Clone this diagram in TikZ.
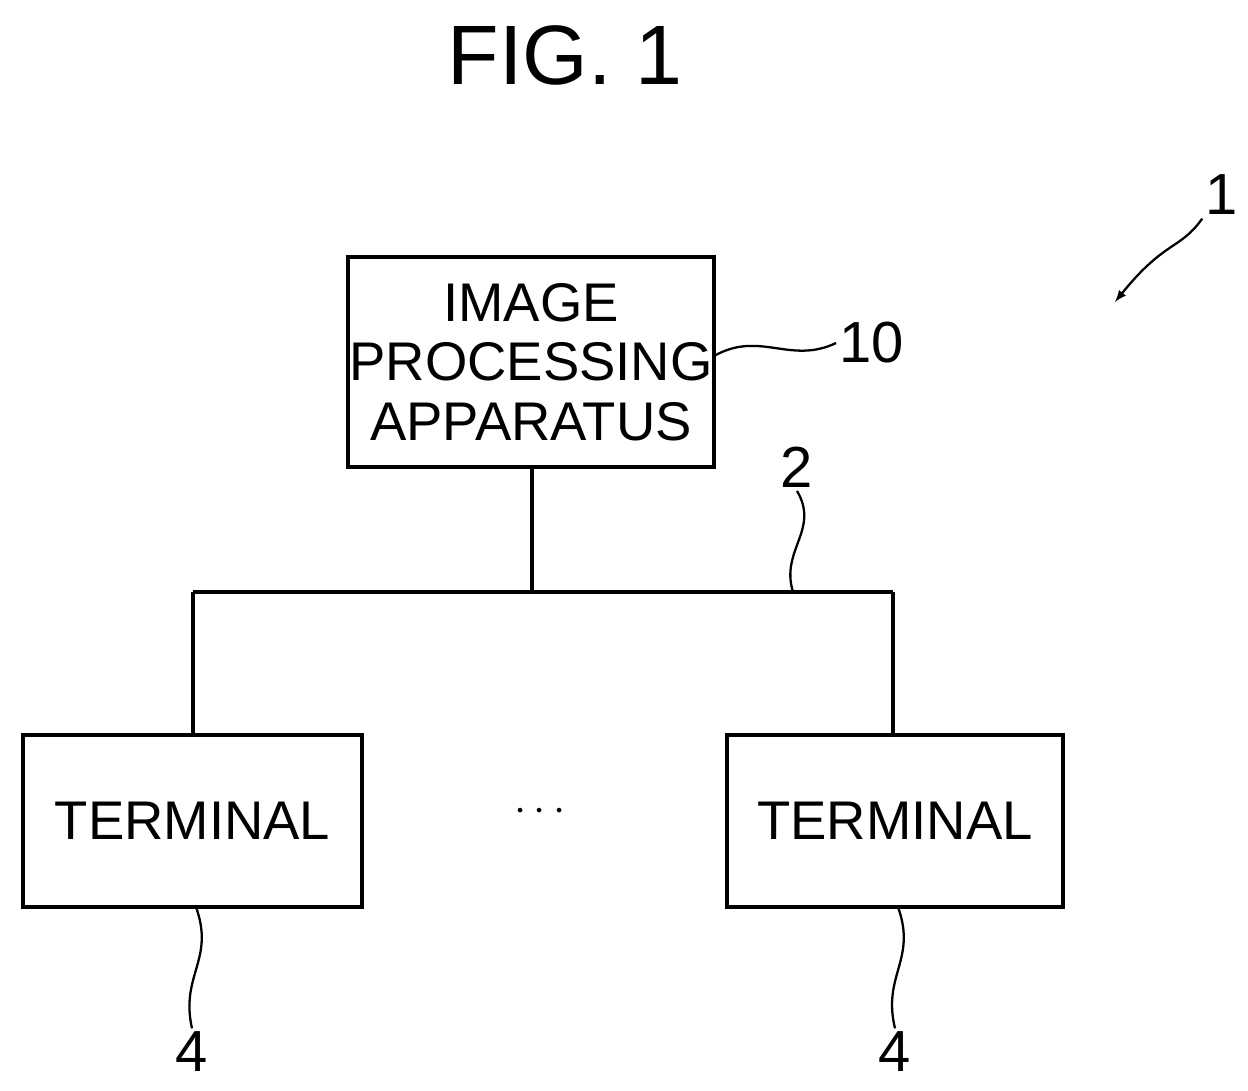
\documentclass[tikz,border=0pt]{standalone}
\usepackage{fontspec}
\setmainfont{Liberation Sans}
\usetikzlibrary{positioning}
\tikzset{
  blk/.style={draw,line width=2.2pt,inner sep=0pt},
  txt/.style={font=\fontsize{31}{36}\selectfont,align=center},
  lbl/.style={font=\fontsize{33}{36}\selectfont,inner sep=1pt},
  lead/.style={line width=1.3pt}
}
\begin{document}
\begin{tikzpicture}[x=0.02cm,y=-0.02cm,line width=2.2pt]
	\useasboundingbox (0,0) rectangle (1248,1091);
	% title
	\node[font=\fontsize{48}{52}\selectfont] (fig) at (565,55) {FIG. 1};
	% boxes
	\node[blk,minimum width=366*0.02cm,minimum height=210*0.02cm] (ipa) at (531,362) {};
	\node[txt] at (ipa) {IMAGE\\[-2pt]PROCESSING\\[-2pt]APPARATUS};
	\node[blk,minimum width=339*0.02cm,minimum height=172*0.02cm] (t1) at (192.5,821) {};
	\node[txt] at (t1) {TERMINAL};
	\node[blk,minimum width=336*0.02cm,minimum height=172*0.02cm] (t2) at (895,821) {};
	\node[txt] at (t2) {TERMINAL};
	\node[txt] (dots) at (540,812) {$\cdots$};
	% network 2
	\coordinate (j) at (532,592);
	\coordinate (nl) at (193,592);
	\coordinate (nr) at (893,592);
	\draw (ipa.south -| j) -- (j);
	\draw (nl) -- (nr);
	\draw (nl) -- (nl |- t1.north);
	\draw (nr) -- (nr |- t2.north);
	% reference labels
	\node[lbl] (l10) at (872,343) {10};
	\node[lbl] (l2) at (797,467) {2};
	\node[lbl] (l4a) at (192,1052) {4};
	\node[lbl] (l4b) at (895,1052) {4};
	\node[lbl] (l1) at (1222,195) {1};
	\coordinate (a10) at (714,356);
	\coordinate (a2) at (793,592);
	\coordinate (a4a) at (196,907);
	\coordinate (a4b) at (898,907);
	\draw[lead] (a10) .. controls (760,330) and (790,365) .. (l10.west);
	\draw[lead] (l2.south) .. controls (820,530) and (780,550) .. (a2);
	\draw[lead] (a4a) .. controls (215,960) and (180,975) .. (l4a.north);
	\draw[lead] (a4b) .. controls (917,960) and (882,975) .. (l4b.north);
	\draw[lead,-latex] (l1.south west) .. controls (1180,250) and (1165,240) .. (1115,302);
\end{tikzpicture}
\end{document}
